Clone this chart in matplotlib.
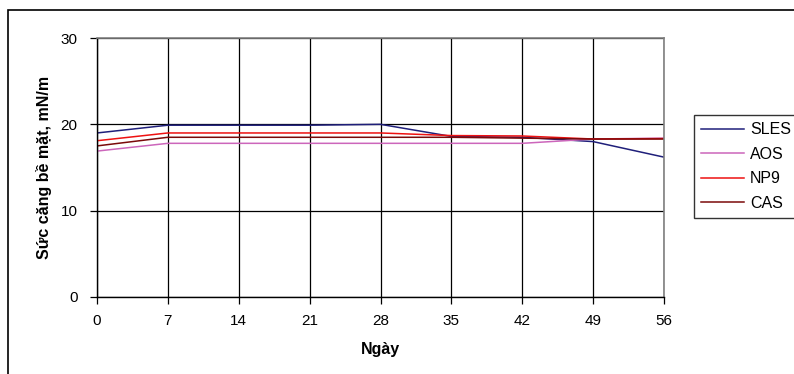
import matplotlib
matplotlib.use("Agg")
import matplotlib.pyplot as plt
from matplotlib.patches import Rectangle

plt.rcParams['font.family'] = ['Liberation Sans', 'DejaVu Sans']

days = [0, 7, 14, 21, 28, 35, 42, 49, 56]
sles = [19.0, 19.9, 19.9, 19.9, 20.0, 18.6, 18.5, 18.0, 16.2]
aos = [16.9, 17.8, 17.8, 17.8, 17.8, 17.8, 17.8, 18.3, 18.4]
np9 = [18.1, 19.0, 19.0, 19.0, 19.0, 18.7, 18.65, 18.3, 18.35]
cas = [17.5, 18.5, 18.5, 18.5, 18.5, 18.5, 18.4, 18.3, 18.3]

series = [("SLES", sles, "#1f1f7a"),
          ("AOS", aos, "#cc66bb"),
          ("NP9", np9, "#ee1111"),
          ("CAS", cas, "#7a0a0a")]

y_ticks = [0, 10, 20, 30]

fig = plt.figure(figsize=(7.94, 3.74), dpi=100)

# outer chart frame (runs off the right and bottom edges)
fig.patches.append(Rectangle((8 / 794, -0.05), 1.0, 1 - 10 / 374 + 0.05,
                             transform=fig.transFigure, fill=False,
                             edgecolor="black", linewidth=1.2))

ax = fig.add_axes([97 / 794, 1 - 297 / 374, (664 - 97) / 794, (297 - 38) / 374])

for name, vals, col in series:
    ax.plot(days, vals, color=col, linewidth=1.1, label=name)

ax.set_xlim(0, 56)
ax.set_ylim(0, 30)
ax.set_xticks(days)
ax.set_yticks(y_ticks)
ax.grid(True, color="black", linewidth=0.9)
ax.set_axisbelow(True)

for side in ("top", "right"):
    ax.spines[side].set_color("#808080")
    ax.spines[side].set_linewidth(1.2)
for side in ("left", "bottom"):
    ax.spines[side].set_color("black")
    ax.spines[side].set_linewidth(1.0)

ax.tick_params(direction="out", length=5, width=0.9, labelsize=11, pad=7,
               colors="black")
ax.tick_params(axis="y", pad=9)

ax.set_xlabel("Ngày", fontsize=11.5, fontweight="bold", labelpad=10)
ax.set_ylabel("Sức căng bề mặt, mN/m", fontsize=11.5, fontweight="bold",
              labelpad=6)

leg = fig.legend(loc="upper left", bbox_to_anchor=(694 / 794, 1 - 115 / 374),
                 frameon=True, fancybox=False, fontsize=11.5,
                 handlelength=2.7, handletextpad=0.35, borderpad=0.45,
                 labelspacing=0.6, borderaxespad=0)
leg.get_frame().set_edgecolor("black")
leg.get_frame().set_linewidth(1.0)

fig.savefig("out.png", dpi=100)
